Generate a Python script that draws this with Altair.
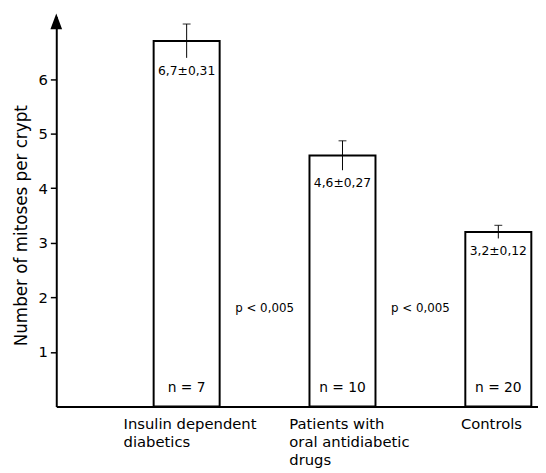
import altair as alt
import pandas as pd

# ---- data ----
groups = ["Insulin dependent\ndiabetics", "Patients with\noral antidiabetic\ndrugs", "Controls"]
means = [6.7, 4.6, 3.2]
sems = [0.31, 0.27, 0.12]
n_patients = [7, 10, 20]
p_labels = ["p < 0,005", "p < 0,005"]
p_level = 1.8
y_ticks = [1, 2, 3, 4, 5, 6]


def comma(v, d):
    return f"{v:.{d}f}".replace(".", ",")


df = pd.DataFrame({
    "group": groups,
    "pos": list(range(len(groups))),
    "mean": means,
    "sem": sems,
    "n": [f"n = {k}" for k in n_patients],
})
df["lo"] = df["mean"] - df["sem"]
df["hi"] = df["mean"] + df["sem"]
df["vlabel"] = [comma(m, 1) + "±" + comma(s, 2) for m, s in zip(means, sems)]

pdf = pd.DataFrame({"label": p_labels, "pos": [i + 0.5 for i in range(len(p_labels))], "y": [p_level] * len(p_labels)})

FONT = "DejaVu Sans"
xscale = alt.Scale(domain=[-0.805, 2.223], nice=False, zero=False)
yscale = alt.Scale(domain=[0, 7.15], nice=False)

base = alt.Chart(df)

bars = base.mark_bar(size=67, fill="white", stroke="black", strokeWidth=2).encode(
    x=alt.X("pos:Q", scale=xscale,
            axis=alt.Axis(title=None, labels=False, ticks=False, grid=False,
                          domainColor="black", domainWidth=2)),
    y=alt.Y("mean:Q", scale=yscale,
            axis=alt.Axis(title="Number of mitoses per crypt", values=y_ticks, grid=False,
                          tickSize=6, tickWidth=1.5, tickColor="black",
                          labelFontSize=15, labelColor="black", labelPadding=3,
                          domainColor="black", domainWidth=2,
                          titleFontSize=17, titleFontWeight="normal", titleColor="black",
                          titlePadding=8, titleY=212)),
)

err = base.mark_rule(color="black", strokeWidth=1).encode(
    x="pos:Q", y="lo:Q", y2="hi:Q"
)
cap = base.mark_tick(orient="horizontal", size=8, thickness=1.2, color="black").encode(
    x="pos:Q", y="hi:Q"
)
vlab = base.mark_text(font=FONT, fontSize=12.5, baseline="top", dy=7, color="black").encode(
    x="pos:Q", y="lo:Q", text="vlabel:N"
)
nlab = base.mark_text(font=FONT, fontSize=14, baseline="alphabetic", dy=-15, color="black").encode(
    x="pos:Q", y=alt.datum(0), text="n:N"
)

label_dx = [-64, -54, -38]
cat_layers = []
for i, dx in enumerate(label_dx):
    cat_layers.append(
        base.transform_filter(alt.datum.pos == i).mark_text(
            font=FONT, fontSize=15, align="left", baseline="alphabetic",
            dx=dx, dy=23, lineHeight=18, lineBreak="\n", color="black"
        ).encode(x="pos:Q", y=alt.datum(0), text="group:N")
    )

plab = alt.Chart(pdf).mark_text(font=FONT, fontSize=12, color="black").encode(
    x="pos:Q", y="y:Q", text="label:N"
)

arrow = alt.Chart(pd.DataFrame({"a": [0]})).mark_point(
    shape="M0,-1L-0.75,1L0.75,1Z", size=144, filled=True, fill="black", stroke="black", opacity=1
).encode(x=alt.value(0), y=alt.value(6))

chart = alt.layer(bars, err, cap, vlab, nlab, *cat_layers, plab, arrow).properties(
    width=489, height=396,
    autosize=alt.AutoSizeParams(type="none"),
    padding={"left": 49, "top": 5, "right": 0, "bottom": 64},
    background="white",
).configure(font=FONT).configure_view(stroke=None)

chart.save("out.html", embed_options={"renderer": "svg", "actions": False})
